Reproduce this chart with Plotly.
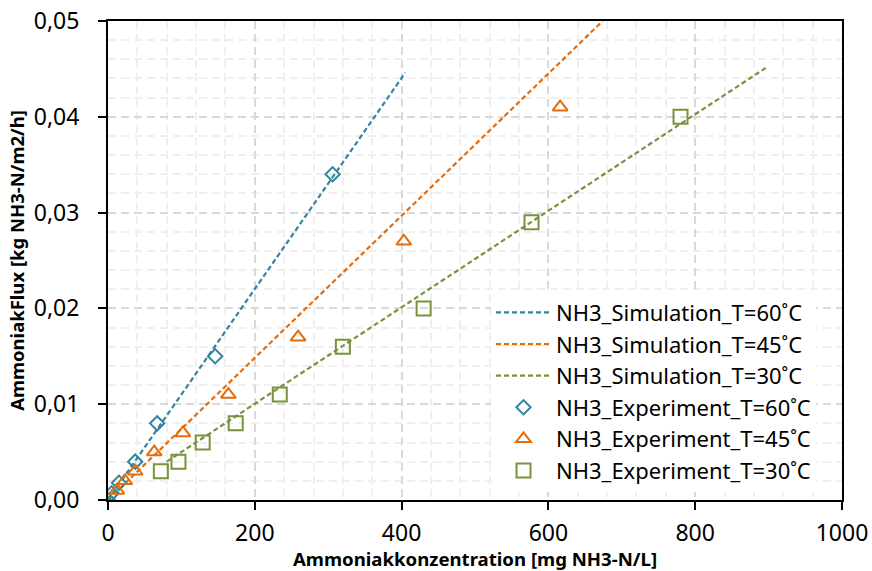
import plotly.graph_objects as go

# Simulation lines
sim60_x = [0, 405]
sim60_y = [0.0, 0.0446]
sim45_x = [0, 674]
sim45_y = [0.0, 0.0500]
sim30_x = [80, 896]
sim30_y = [0.0040, 0.0451]

# Experiments
exp60_x = [0, 5, 15, 37, 67, 146, 306]
exp60_y = [0.0, 0.0007, 0.0018, 0.004, 0.008, 0.015, 0.034]
exp45_x = [12, 23, 37, 63, 102, 164, 259, 403, 616]
exp45_y = [0.001, 0.002, 0.003, 0.005, 0.007, 0.011, 0.017, 0.027, 0.041]
exp30_x = [72, 96, 129, 174, 234, 320, 430, 577, 780]
exp30_y = [0.003, 0.004, 0.006, 0.008, 0.011, 0.016, 0.020, 0.029, 0.040]

names_sim = ["NH3_Simulation_T=60˚C", "NH3_Simulation_T=45˚C", "NH3_Simulation_T=30˚C"]
names_exp = ["NH3_Experiment_T=60˚C", "NH3_Experiment_T=45˚C", "NH3_Experiment_T=30˚C"]

c60, c45, c30 = "#31859C", "#E46C0A", "#77933C"

fig = go.Figure()
for xs, ys, nm, c in [(sim60_x, sim60_y, names_sim[0], c60),
                      (sim45_x, sim45_y, names_sim[1], c45),
                      (sim30_x, sim30_y, names_sim[2], c30)]:
    fig.add_trace(go.Scatter(x=xs, y=ys, mode="lines", name=nm,
                             line=dict(color=c, width=2.2, dash="5px,3px")))

for xs, ys, nm, c, sym, sz in [(exp60_x, exp60_y, names_exp[0], c60, "diamond-open", 11),
                               (exp45_x, exp45_y, names_exp[1], c45, "triangle-up-open", 13),
                               (exp30_x, exp30_y, names_exp[2], c30, "square-open", 14)]:
    fig.add_trace(go.Scatter(x=xs, y=ys, mode="markers", name=nm,
                             marker=dict(symbol=sym, size=sz, color=c,
                                         line=dict(color=c, width=2))))

font = "Noto Sans"
fig.update_layout(
    width=872, height=571,
    margin=dict(l=108, r=30, t=20.5, b=71, autoexpand=False),
    plot_bgcolor="white", paper_bgcolor="white",
    font=dict(family=font, size=23, color="#000000"),
    separators=", ",
    showlegend=True,
    legend=dict(x=0.5218, y=0.435, xanchor="left", yanchor="top",
                bgcolor="white", borderwidth=0, font=dict(size=22),
                itemwidth=55, tracegroupgap=0),
)
fig.update_xaxes(
    range=[0, 1000], dtick=200, tick0=0, tickformat="d", automargin=False,
    showline=True, linecolor="black", linewidth=2, mirror=True,
    ticks="outside", ticklen=8, tickwidth=2, tickcolor="black",
    showgrid=True, gridcolor="#D9D9D9", gridwidth=2, griddash="8px,5px",
    zeroline=False,
    minor=dict(dtick=40, showgrid=True, gridcolor="#EFEFEF", gridwidth=1.5),
    title=dict(text="<b>Ammoniakkonzentration [mg NH3-N/L]</b>", font=dict(size=18.6), standoff=14),
    tickfont=dict(size=23),
    ticklabelstandoff=3,
)
fig.update_yaxes(
    range=[0, 0.05], dtick=0.01, tick0=0, tickformat=".2f", automargin=False,
    showline=True, linecolor="black", linewidth=2, mirror=True,
    ticks="outside", ticklen=8, tickwidth=2, tickcolor="black",
    showgrid=True, gridcolor="#D9D9D9", gridwidth=2, griddash="8px,5px",
    zeroline=False,
    minor=dict(dtick=0.002, showgrid=True, gridcolor="#EFEFEF", gridwidth=1.5),
    title=dict(text="<b>AmmoniakFlux [kg NH3-N/m2/h]</b>", font=dict(size=18.5), standoff=4),
    tickfont=dict(size=23),
    ticklabelstandoff=14,
)
fig.write_html("out.html")
